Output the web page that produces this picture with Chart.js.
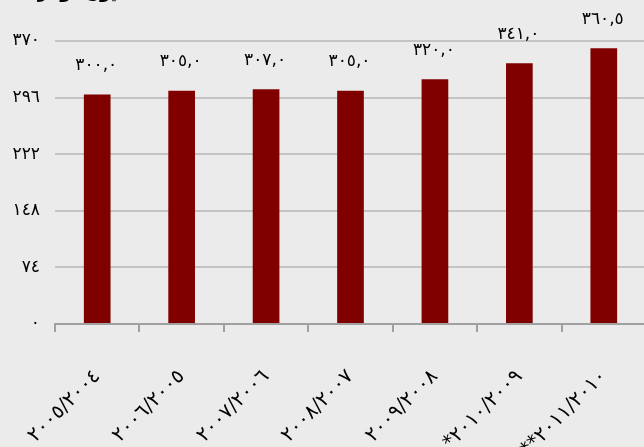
<!DOCTYPE html>
<html>
<head>
<meta charset="utf-8">
<script src="https://cdn.jsdelivr.net/npm/chart.js@4"></script>
<style>
  html, body { margin: 0; padding: 0; background: #ebebeb; overflow: hidden; }
  #wrap { position: relative; width: 652px; height: 447px; }
  #unit { position: absolute; top: -18px; left: 30px; font: bold 17px 'DejaVu Sans'; direction: rtl; color: #000; }
</style>
</head>
<body>
<div id="wrap">
  <div id="unit">(مليون دولار)</div>
  <canvas id="bars" width="652" height="447"></canvas>
</div>
<script>
// categories (visual order, Arabic-Indic digits)
const years = ['٢٠٠٥/٢٠٠٤', '٢٠٠٦/٢٠٠٥', '٢٠٠٧/٢٠٠٦', '٢٠٠٨/٢٠٠٧', '٢٠٠٩/٢٠٠٨', '*٢٠١٠/٢٠٠٩', '**٢٠١١/٢٠١٠'];
const values = [300, 305, 307, 305, 320, 341, 360.5];
const yTicks = [0, 74, 148, 222, 296, 370];

const arDigits = '٠١٢٣٤٥٦٧٨٩';
const toArabic = s => String(s).replace(/[0-9]/g, d => arDigits[d]).replace('.', ',');

// value labels over the bars
const barLabels = {
  id: 'barLabels',
  afterDatasetsDraw(chart) {
    const ctx = chart.ctx;
    ctx.save();
    ctx.font = '17px "DejaVu Sans"';
    ctx.fillStyle = '#000';
    ctx.textAlign = 'center';
    ctx.textBaseline = 'middle';
    chart.getDatasetMeta(0).data.forEach((bar, i) => {
      ctx.fillText(toArabic(values[i].toFixed(1)), bar.x - 1, bar.y - 29);
    });
    ctx.restore();
  }
};

new Chart('bars', {
  type: 'bar',
  data: {
    labels: years,
    datasets: [{
      data: values,
      backgroundColor: '#800000',
      categoryPercentage: 1,
      barPercentage: 0.316
    }]
  },
  options: {
    responsive: false,
    animation: false,
    layout: { padding: { top: 41, right: 6, left: 0, bottom: 0 } },
    plugins: { legend: { display: false }, tooltip: { enabled: false } },
    scales: {
      x: {
        afterFit: s => { s.height = 123; s.paddingLeft = 0; s.paddingRight = 0; },
        grid: { drawOnChartArea: false, drawTicks: true, tickLength: 8, color: '#a0a0a0', lineWidth: 2, offset: true },
        border: { display: true, color: '#a0a0a0', width: 2 },
        ticks: { color: '#000', font: { family: 'DejaVu Sans', size: 20 }, minRotation: 45, maxRotation: 45, padding: 33, autoSkip: false }
      },
      y: {
        min: 0,
        max: 370,
        afterFit: s => { s.width = 55; s.paddingTop = 0; s.paddingBottom = 0; },
        afterBuildTicks: s => { s.ticks = yTicks.map(v => ({ value: v })); },
        grid: { color: '#c4c4c4', lineWidth: 2, drawTicks: false },
        border: { display: false },
        ticks: { color: '#000', font: { family: 'DejaVu Sans', size: 17 }, padding: 15, callback: v => toArabic(v) }
      }
    }
  },
  plugins: [barLabels]
});
</script>
</body>
</html>
